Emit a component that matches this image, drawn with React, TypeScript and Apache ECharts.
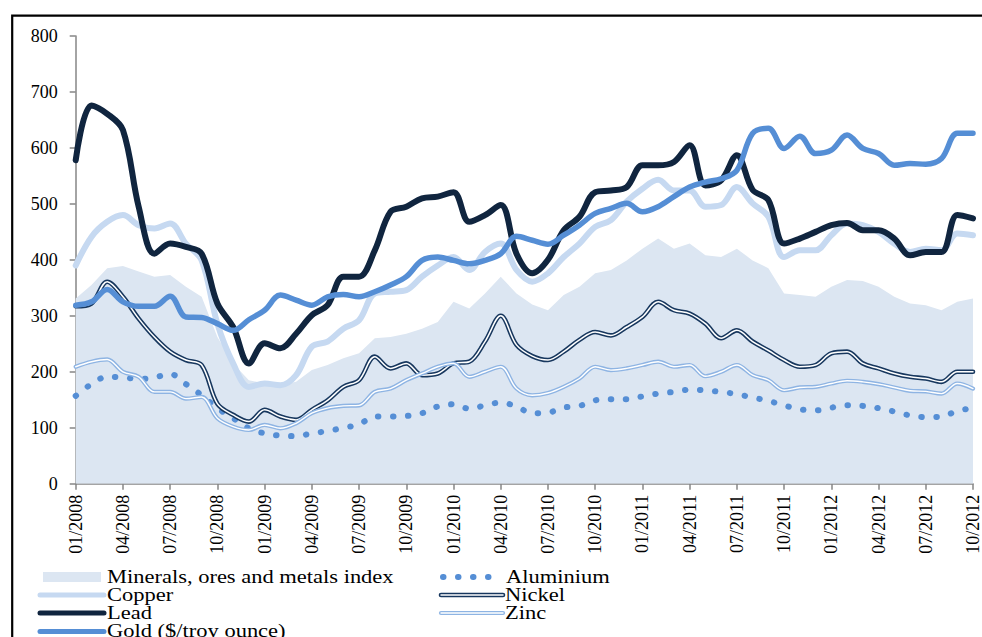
import React, { useEffect, useRef } from "react";
import * as echarts from "echarts";

const months = [
  "01/2008", "02/2008", "03/2008", "04/2008", "05/2008", "06/2008", "07/2008", "08/2008", "09/2008", "10/2008", "11/2008", "12/2008",
  "01/2009", "02/2009", "03/2009", "04/2009", "05/2009", "06/2009", "07/2009", "08/2009", "09/2009", "10/2009", "11/2009", "12/2009",
  "01/2010", "02/2010", "03/2010", "04/2010", "05/2010", "06/2010", "07/2010", "08/2010", "09/2010", "10/2010", "11/2010", "12/2010",
  "01/2011", "02/2011", "03/2011", "04/2011", "05/2011", "06/2011", "07/2011", "08/2011", "09/2011", "10/2011", "11/2011", "12/2011",
  "01/2012", "02/2012", "03/2012", "04/2012", "05/2012", "06/2012", "07/2012", "08/2012", "09/2012", "10/2012",
];

const mineralsIndex = [
  331, 355, 385, 389, 379, 370, 373, 352, 334, 262, 215, 185,
  179, 176, 182, 203, 212, 224, 233, 260, 262, 268, 277, 289,
  325, 313, 340, 370, 340, 320, 310, 337, 352, 376, 382, 399,
  420, 438, 420, 429, 408, 405, 420, 399, 385, 340, 337, 334,
  352, 364, 362, 352, 334, 322, 319, 310, 325, 331,
];

const aluminium = [
  157, 178, 191, 190, 187, 190, 196, 178, 158, 135, 117, 99,
  90, 86, 85, 90, 94, 100, 106, 120, 120, 121, 126, 138,
  142, 134, 140, 145, 138, 126, 127, 136, 139, 149, 151, 151,
  156, 161, 164, 168, 167, 164, 160, 154, 148, 140, 133, 131,
  136, 140, 139, 135, 129, 122, 119, 120, 130, 135,
];

const copper = [
  390, 441, 468, 480, 462, 456, 465, 429, 399, 286, 215, 173,
  179, 176, 194, 245, 254, 277, 292, 340, 343, 346, 370, 390,
  405, 382, 414, 429, 382, 361, 376, 405, 429, 459, 471, 504,
  527, 543, 524, 524, 495, 498, 530, 501, 477, 405, 417, 417,
  444, 465, 462, 450, 429, 414, 420, 417, 447, 444,
];

const nickel = [
  317, 322, 361, 334, 295, 262, 236, 221, 212, 143, 123, 111,
  132, 120, 114, 132, 149, 173, 185, 227, 206, 215, 194, 197,
  215, 218, 254, 300, 248, 228, 221, 236, 257, 271, 265, 280,
  298, 325, 310, 304, 286, 260, 274, 254, 238, 221, 209, 212,
  233, 236, 215, 206, 197, 191, 188, 182, 200, 200,
];

const lead = [
  578, 676, 661, 632, 495, 411, 429, 423, 411, 322, 280, 215,
  251, 242, 268, 301, 319, 370, 370, 417, 486, 495, 510, 513,
  521, 468, 480, 498, 411, 376, 400, 453, 477, 521, 524, 530,
  569, 569, 575, 605, 533, 542, 587, 525, 507, 429, 438, 450,
  462, 466, 453, 453, 438, 408, 414, 414, 480, 474,
];

const zinc = [
  209, 218, 222, 200, 191, 164, 164, 152, 155, 117, 102, 96,
  105, 99, 108, 126, 135, 139, 140, 164, 170, 185, 197, 209,
  215, 191, 200, 209, 170, 158, 162, 173, 188, 209, 203, 206,
  212, 218, 209, 212, 192, 200, 212, 194, 185, 167, 172, 173,
  179, 184, 182, 178, 172, 166, 165, 161, 179, 170,
];

const gold = [
  319, 325, 347, 325, 317, 317, 335, 298, 297, 286, 274, 293,
  310, 337, 328, 319, 334, 338, 334, 343, 355, 370, 399, 405,
  399, 393, 399, 411, 442, 435, 428, 444, 462, 483, 492, 501,
  486, 495, 513, 530, 539, 545, 560, 626, 635, 599, 621, 590,
  596, 623, 599, 590, 569, 572, 571, 581, 626, 626,
];

const yTicks = { min: 0, max: 800, step: 100 };

const C_INDEX = "#dce6f2";
const C_ALU = "#558ed5";
const C_COPPER = "#c6d9f1";
const C_NICKEL = "#17375e";
const C_LEAD = "#10253f";
const C_ZINC = "#8eb4e3";
const C_GOLD = "#558ed5";
const SERIF = '"Liberation Serif", "Times New Roman", serif';

export default function App() {
  const ref = useRef<HTMLDivElement>(null);

  useEffect(() => {
    const chart = echarts.init(ref.current!, null, { renderer: "svg" });
    const line = (name: string, data: number[], color: string, width: number, extra: any = {}) => ({
      name,
      type: "line",
      data,
      symbol: "none",
      smooth: 0.35,
      silent: true,
      lineStyle: { color, width, join: "round", cap: "round", ...extra },
      itemStyle: { color },
    });

    const legendText = (text: string, x: number, y: number) => ({
      type: "text",
      x,
      y,
      scaleX: 1.25,
      style: { text, fill: "#000", font: `18px ${SERIF}`, verticalAlign: "middle", align: "left" },
    });
    const legendLine = (x1: number, x2: number, y: number, stroke: string, lineWidth: number, extra: any = {}) => ({
      type: "line",
      shape: { x1, y1: y, x2, y2: y },
      style: { stroke, lineWidth, lineCap: "round", ...extra },
    });

    chart.setOption({
      animation: false,
      backgroundColor: "#ffffff",
      grid: { left: 75.7, right: 7.4, top: 36, bottom: 153.3, containLabel: false },
      xAxis: {
        type: "category",
        data: months,
        boundaryGap: false,
        axisLine: { lineStyle: { color: "#868686", width: 1.5 } },
        axisTick: { interval: 2, length: 6, lineStyle: { color: "#868686", width: 1.5 } },
        axisLabel: {
          interval: 2,
          rotate: 90,
          margin: 11,
          color: "#000",
          fontFamily: SERIF,
          fontSize: 18,
        },
        splitLine: { show: false },
      },
      yAxis: {
        type: "value",
        min: yTicks.min,
        max: yTicks.max,
        interval: yTicks.step,
        axisLine: { show: true, lineStyle: { color: "#868686", width: 1.5 } },
        axisTick: { show: true, length: 6, lineStyle: { color: "#868686", width: 1.5 } },
        axisLabel: { margin: 18, color: "#000", fontFamily: SERIF, fontSize: 18 },
        splitLine: { show: false },
      },
      series: [
        {
          name: "Minerals, ores and metals index",
          type: "line",
          data: mineralsIndex,
          symbol: "none",
          silent: true,
          lineStyle: { width: 0, color: C_INDEX },
          itemStyle: { color: C_INDEX },
          areaStyle: { color: C_INDEX, opacity: 1 },
        },
        line("Aluminium", aluminium, C_ALU, 6, { type: [0.5, 14.5] }),
        line("Copper", copper, C_COPPER, 6),
        line("Nickel", nickel, C_NICKEL, 4.6),
        line("Nickel ", nickel, "#ffffff", 1.5),
        line("Lead", lead, C_LEAD, 6),
        line("Zinc", zinc, C_ZINC, 4.2),
        line("Zinc ", zinc, "#ffffff", 1.4),
        line("Gold ($/troy ounce)", gold, C_GOLD, 5.5),
      ],
      graphic: [
        {
          type: "rect",
          shape: { x: 12.2, y: 15.7, width: 1000, height: 700 },
          style: { fill: "none", stroke: "#000", lineWidth: 2.2 },
          silent: true,
          z: -1,
        },
        { type: "rect", shape: { x: 43, y: 572, width: 58, height: 10 }, style: { fill: C_INDEX } },
        legendText("Minerals, ores and metals index", 107, 577),
        legendLine(40, 104, 595, C_COPPER, 5),
        legendText("Copper", 107, 595),
        legendLine(40, 104, 613, C_LEAD, 5),
        legendText("Lead", 107, 613),
        legendLine(40, 104, 631.5, C_GOLD, 5),
        legendText("Gold ($/troy ounce)", 107, 631),
        legendLine(443, 489, 577, C_ALU, 6, { lineDash: [0.5, 14.5] }),
        legendText("Aluminium", 506, 577),
        legendLine(441, 503, 595, C_NICKEL, 4.6),
        legendLine(441, 503, 595, "#ffffff", 1.5),
        legendText("Nickel", 505, 595),
        legendLine(441, 503, 613, C_ZINC, 4.2),
        legendLine(441, 503, 613, "#ffffff", 1.4),
        legendText("Zinc", 505, 613),
      ],
    });
    return () => chart.dispose();
  }, []);

  return (
    <div
      ref={ref}
      style={{ position: "fixed", left: 0, top: 0, width: 982, height: 637, background: "#fff" }}
    />
  );
}
